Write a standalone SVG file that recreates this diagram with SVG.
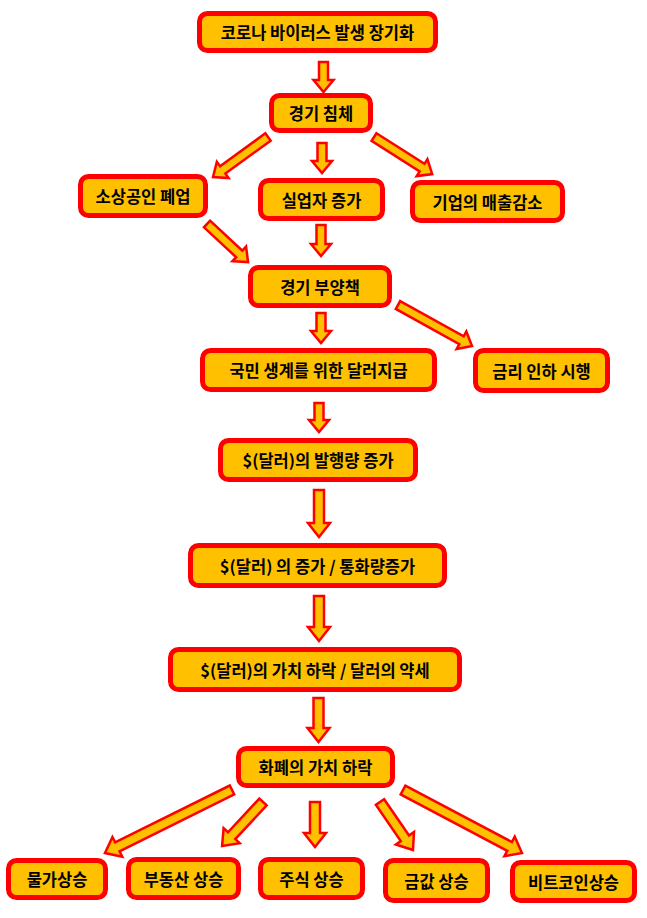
<svg xmlns="http://www.w3.org/2000/svg" width="647" height="918" viewBox="0 0 647 918">
<style>
.box{fill:#FFC000;stroke:#FF0000;stroke-width:5}
.t{font-family:"Noto Sans CJK KR","Liberation Sans",sans-serif;font-weight:bold;font-size:16.5px;fill:#000;text-anchor:middle;dominant-baseline:central}
.arr{fill:#FFC000;stroke:#FF0000;stroke-width:2.5;stroke-linejoin:miter}
</style>
<rect width="647" height="918" fill="#fff"/>
<g id="connectors">
<polygon class="arr" transform="translate(323.5,62) rotate(90)" points="0,-4.5 18,-4.5 18,-10 30,0 18,10 18,4.5 0,4.5"/>
<polygon class="arr" transform="translate(268,137) rotate(143.97)" points="0,-4.5 56,-4.5 56,-10 68,0 56,10 56,4.5 0,4.5"/>
<polygon class="arr" transform="translate(322,143) rotate(90)" points="0,-4.5 18,-4.5 18,-10 30,0 18,10 18,4.5 0,4.5"/>
<polygon class="arr" transform="translate(374,137) rotate(32.54)" points="0,-4.5 57,-4.5 57,-10 69,0 57,10 57,4.5 0,4.5"/>
<polygon class="arr" transform="translate(207,224) rotate(42.83)" points="0,-4.5 44,-4.5 44,-10 56,0 44,10 44,4.5 0,4.5"/>
<polygon class="arr" transform="translate(321,225) rotate(90)" points="0,-4.5 19,-4.5 19,-10 31,0 19,10 19,4.5 0,4.5"/>
<polygon class="arr" transform="translate(321,313) rotate(90)" points="0,-4.5 18,-4.5 18,-10 30,0 18,10 18,4.5 0,4.5"/>
<polygon class="arr" transform="translate(398,305) rotate(28.99)" points="0,-4.5 72.6,-4.5 72.6,-10 84.6,0 72.6,10 72.6,4.5 0,4.5"/>
<polygon class="arr" transform="translate(319,403) rotate(90)" points="0,-4.5 17,-4.5 17,-10 29,0 17,10 17,4.5 0,4.5"/>
<polygon class="arr" transform="translate(319,490) rotate(90)" points="0,-5 33,-5 33,-11 47,0 33,11 33,5 0,5"/>
<polygon class="arr" transform="translate(319,596) rotate(90)" points="0,-5 31,-5 31,-11 45,0 31,11 31,5 0,5"/>
<polygon class="arr" transform="translate(318.5,698) rotate(90)" points="0,-5 30,-5 30,-11 44,0 30,11 30,5 0,5"/>
<polygon class="arr" transform="translate(232,790) rotate(153.62)" points="0,-5 128,-5 128,-11 141.8,0 128,11 128,5 0,5"/>
<polygon class="arr" transform="translate(263,802) rotate(132.98)" points="0,-5 46,-5 46,-11 60,0 46,11 46,5 0,5"/>
<polygon class="arr" transform="translate(315,802) rotate(90)" points="0,-5 31,-5 31,-11 45,0 31,11 31,5 0,5"/>
<polygon class="arr" transform="translate(380,802) rotate(55.49)" points="0,-5 44,-5 44,-11 58.2,0 44,11 44,5 0,5"/>
<polygon class="arr" transform="translate(403,790) rotate(27.9)" points="0,-5 120.6,-5 120.6,-11 134.6,0 120.6,11 120.6,5 0,5"/>
</g>
<g id="n1"><rect class="box" x="199.5" y="13.5" width="236" height="37" rx="8"/><text class="t" x="317.5" y="32">코로나 바이러스 발생 장기화</text></g>
<g id="n2"><rect class="box" x="271.5" y="95.5" width="99" height="35" rx="8"/><text class="t" x="321" y="113">경기 침체</text></g>
<g id="n3"><rect class="box" x="80.5" y="176.5" width="125" height="39" rx="8"/><text class="t" x="143" y="196">소상공인 폐업</text></g>
<g id="n4"><rect class="box" x="260.5" y="180.5" width="122" height="38" rx="8"/><text class="t" x="321.5" y="200">실업자 증가</text></g>
<g id="n5"><rect class="box" x="412.5" y="182.5" width="150" height="38" rx="8"/><text class="t" x="487.5" y="202">기업의 매출감소</text></g>
<g id="n6"><rect class="box" x="250.5" y="267.5" width="139" height="38" rx="8"/><text class="t" x="320" y="287">경기 부양책</text></g>
<g id="n7"><rect class="box" x="202.5" y="350.5" width="232" height="39" rx="8"/><text class="t" x="318.5" y="370">국민 생계를 위한 달러지급</text></g>
<g id="n8"><rect class="box" x="475.5" y="350.5" width="132" height="40" rx="8"/><text class="t" x="541.5" y="371">금리 인하 시행</text></g>
<g id="n9"><rect class="box" x="220.5" y="440.5" width="195" height="39" rx="8"/><text class="t" x="318" y="460">$(달러)의 발행량 증가</text></g>
<g id="n10"><rect class="box" x="190.5" y="545.5" width="254" height="40" rx="8"/><text class="t" x="317.5" y="566">$(달러) 의 증가 / 통화량증가</text></g>
<g id="n11"><rect class="box" x="170.5" y="649.5" width="289" height="40" rx="8"/><text class="t" x="315" y="670">$(달러)의 가치 하락 / 달러의 약세</text></g>
<g id="n12"><rect class="box" x="238.5" y="748.5" width="154" height="37" rx="8"/><text class="t" x="315.5" y="767">화폐의 가치 하락</text></g>
<g id="n13"><rect class="box" x="8.5" y="860.5" width="97" height="37" rx="8"/><text class="t" x="57" y="879">물가상승</text></g>
<g id="n14"><rect class="box" x="128.5" y="859.5" width="110" height="38" rx="8"/><text class="t" x="183.5" y="879">부동산 상승</text></g>
<g id="n15"><rect class="box" x="260.5" y="859.5" width="102" height="38" rx="8"/><text class="t" x="311.5" y="879">주식 상승</text></g>
<g id="n16"><rect class="box" x="385.5" y="860.5" width="102" height="40" rx="8"/><text class="t" x="436.5" y="881">금값 상승</text></g>
<g id="n17"><rect class="box" x="512.5" y="862.5" width="122" height="38" rx="8"/><text class="t" x="573.5" y="882">비트코인상승</text></g>
</svg>
